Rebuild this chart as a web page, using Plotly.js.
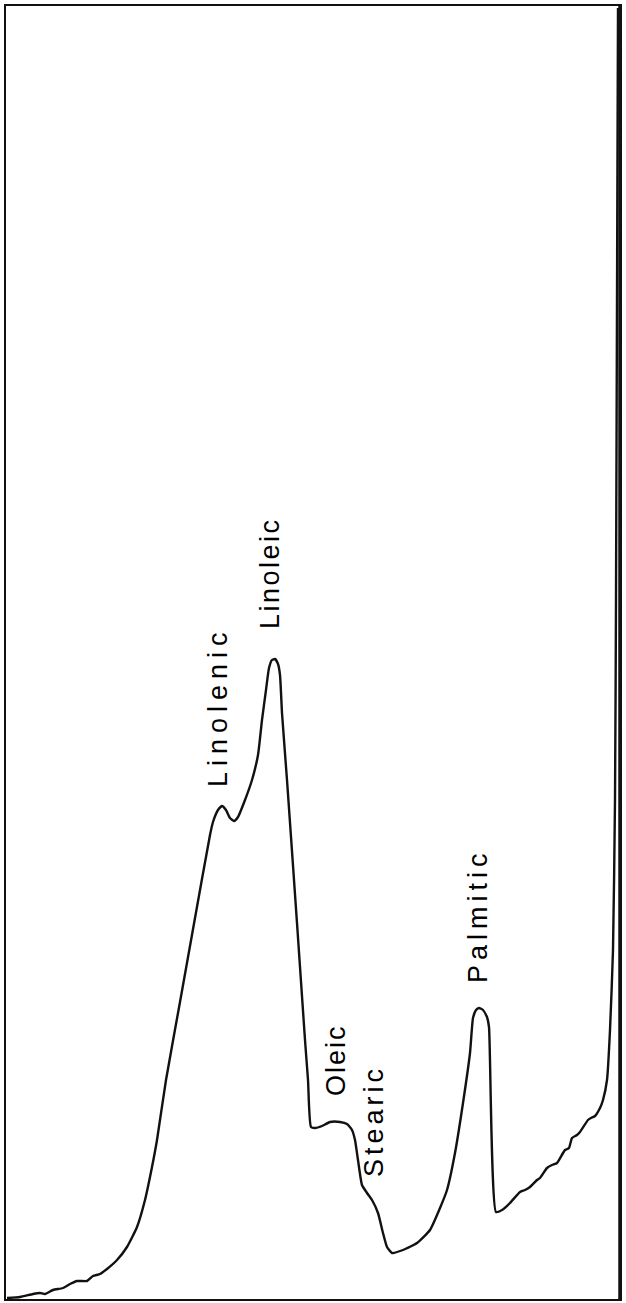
<!DOCTYPE html>
<html>
<head>
<meta charset="utf-8">
<script src="https://cdn.plot.ly/plotly-3.0.1.min.js"></script>
<style>
html,body{margin:0;padding:0;background:#fff;}
#chart{width:626px;height:1303px;}
</style>
</head>
<body>
<div id="chart"></div>
<script>
// Retention (horizontal, arbitrary units) and detector response (vertical, arbitrary units)
const retention = [1,14,27,34,39,47,57,64,71,81,87,94,101,111,121,131,139,146,151,160,174,189,204,207,212,216,220,224,228,232,239,246,252,256,260,263,266,269,272,274,276,281,291,299,302,305,309,316,324,334,341,346,349,352,356,361,366,372,377,381,386,397,411,424,434,441,449,457,464,467,470,473,477,481,483,490,496,504,514,519,524,531,534,541,546,551,559,563,566,571,574,582,585,589,594,597,601,604,607,609,610,611,612];
const response  = [1,2,5,6,5,9,11,15,18,18,23,25,30,39,52,72,99,132,159,219,297,381,464,477,489,493,489,481,478,482,499,519,544,579,609,631,639,640,635,624,586,519,376,259,219,172,171,173,177,177,175,169,159,139,114,106,99,86,66,52,46,49,56,69,91,109,146,196,246,281,289,291,289,282,272,87,89,96,107,109,112,119,121,131,134,136,149,151,161,164,167,179,181,183,191,199,219,269,349,499,699,999,1291];

// Peak labels
const peakNames = ["Linolenic","Linoleic","Oleic","Stearic","Palmitic"];
const peakX     = [212, 264, 330, 368, 472];
const peakY     = [592, 726, 239, 178, 383];
const peakSpacing = [6, 2.5, 2, 4, 5];

const annotations = peakNames.map((n,i)=>({
  x: peakX[i], y: peakY[i], xref:'x', yref:'y',
  text: '<span style="letter-spacing:'+peakSpacing[i]+'px">'+n+'</span>',
  showarrow:false, textangle:-90,
  font:{family:'Liberation Sans, Arial, sans-serif', size:27, color:'#000'},
  xanchor:'center', yanchor:'middle'
}));

const trace = {
  x: retention, y: response, type:'scatter', mode:'lines',
  line:{color:'#111', width:2.4, shape:'spline', smoothing:0.5},
  hoverinfo:'skip'
};

const layout = {
  width:626, height:1303,
  margin:{l:6, r:6, t:6, b:4, pad:0},
  paper_bgcolor:'#fff', plot_bgcolor:'#fff',
  showlegend:false,
  xaxis:{range:[0,614], showgrid:false, zeroline:false, showticklabels:false, ticks:'',
         showline:true, mirror:true, linecolor:'#111', linewidth:2},
  yaxis:{range:[0,1293], showgrid:false, zeroline:false, showticklabels:false, ticks:'',
         showline:true, mirror:true, linecolor:'#111', linewidth:2},
  shapes:[{type:'line', xref:'paper', yref:'paper', x0:1, x1:1, y0:0, y1:1,
           line:{color:'#111', width:3.5}}],
  annotations: annotations
};

Plotly.newPlot('chart',[trace],layout,{staticPlot:true, displayModeBar:false});
</script>
</body>
</html>
